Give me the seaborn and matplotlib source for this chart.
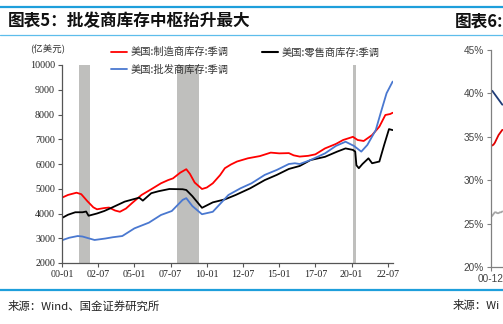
import matplotlib
matplotlib.use("Agg")
import matplotlib.pyplot as plt
import seaborn as sns
import pandas as pd
from matplotlib.lines import Line2D

# ---------------- data (亿美元) ----------------
mfg_dates = ["2000-01", "2000-06", "2001-01", "2001-05", "2001-10", "2002-03", "2002-06",
             "2002-12", "2003-04", "2003-09", "2004-01", "2004-06", "2004-11", "2005-07",
             "2006-03", "2006-11", "2007-05", "2007-09", "2008-03", "2008-08", "2008-11",
             "2009-03", "2009-09", "2010-01", "2010-06", "2010-12", "2011-04", "2011-09",
             "2012-02", "2012-11", "2013-09", "2014-06", "2015-01", "2015-09", "2016-01",
             "2016-06", "2017-01", "2017-07", "2018-03", "2018-12", "2019-06", "2020-01",
             "2020-02", "2020-06", "2020-11", "2021-06", "2021-12", "2022-05", "2022-09",
             "2022-11"]
mfg_vals = [4640, 4750, 4840, 4780, 4500, 4250, 4170,
            4220, 4240, 4120, 4070, 4200, 4420, 4750,
            4980, 5220, 5350, 5420, 5650, 5790, 5600,
            5250, 4990, 5050, 5220, 5550, 5830, 5980,
            6100, 6230, 6320, 6460, 6430, 6440, 6350,
            6300, 6330, 6390, 6630, 6810, 6970, 7080,
            7100, 6970, 6930, 7170, 7510, 7980, 8020,
            8070]

ret_dates = ["2000-01", "2000-06", "2000-12", "2001-06", "2001-09", "2001-11", "2002-06",
             "2002-12", "2003-06", "2004-05", "2005-05", "2005-08", "2006-03", "2006-09",
             "2007-06", "2008-05", "2008-08", "2009-01", "2009-09", "2010-06", "2011-04",
             "2012-01", "2013-01", "2014-01", "2014-11", "2015-09", "2016-06", "2017-03",
             "2018-03", "2019-01", "2019-08", "2020-02", "2020-04", "2020-05", "2020-07",
             "2020-10", "2021-03", "2021-06", "2021-12", "2022-04", "2022-08", "2022-11"]
ret_vals = [3820, 3950, 4050, 4050, 4080, 3910, 4000,
            4100, 4230, 4480, 4640, 4520, 4820, 4900,
            4990, 4980, 4950, 4700, 4230, 4450, 4570,
            4750, 5020, 5350, 5560, 5800, 5920, 6160,
            6290, 6500, 6630, 6570, 6500, 5950, 5830,
            6000, 6230, 6030, 6100, 6770, 7410, 7370]

whl_dates = ["2000-01", "2000-07", "2001-02", "2001-06", "2002-04", "2003-01", "2003-07",
             "2004-03", "2005-01", "2006-01", "2006-11", "2007-08", "2008-05", "2008-08",
             "2009-01", "2009-09", "2010-06", "2011-07", "2012-05", "2013-02", "2014-01",
             "2014-11", "2015-09", "2016-02", "2016-06", "2017-03", "2018-03", "2018-12",
             "2019-08", "2020-03", "2020-09", "2021-02", "2021-09", "2022-01", "2022-06",
             "2022-11"]
whl_vals = [2920, 3020, 3090, 3070, 2930, 2990, 3040,
            3090, 3400, 3630, 3940, 4100, 4550, 4620,
            4300, 3970, 4070, 4750, 5020, 5220, 5560,
            5760, 6000, 6030, 6000, 6160, 6430, 6730,
            6900, 6730, 6500, 6770, 7370, 8050, 8860,
            9330]

series_names = ["美国:制造商库存:季调", "美国:零售商库存:季调", "美国:批发商库存:季调"]
recessions = [("2001-03-01", "2001-11-30"), ("2007-12-01", "2009-06-30"), ("2020-02-01", "2020-04-30")]
x_ticks = ["2000-01", "2002-07", "2005-01", "2007-07", "2010-01", "2012-07",
           "2015-01", "2017-07", "2020-01", "2022-07"]
y_ticks = [2000, 3000, 4000, 5000, 6000, 7000, 8000, 9000, 10000]

# right (partially visible) chart: first months only
r_navy = [40.3, 40.3, 40.1, 39.9, 39.7, 39.5, 39.3, 39.1, 38.9, 38.7]
r_red = [34.0, 34.0, 34.1, 34.3, 34.6, 34.9, 35.2, 35.4, 35.6, 35.8]
r_gray = [25.8, 25.9, 26.1, 26.3, 26.3, 26.2, 26.2, 26.3, 26.3, 26.4]
r_yticks = [20, 25, 30, 35, 40, 45]

# ---------------- style ----------------
sns.set_theme(style="white")
plt.rcParams["font.family"] = ["Noto Sans CJK SC", "DejaVu Sans"]
plt.rcParams["axes.unicode_minus"] = False

W, H = 503, 324
fig = plt.figure(figsize=(W / 100, H / 100), dpi=100)
fig.patch.set_facecolor("white")

def fx(px):
    return px / W

def fy(py):
    return 1 - py / H

# decorative lines
line_col = "#1E9FDB"
fig.add_artist(Line2D([0, 1], [fy(7), fy(7)], color=line_col, lw=1.6))
fig.add_artist(Line2D([0, 1], [fy(34.5), fy(34.5)], color="#5DBDEB", lw=0.9))
fig.add_artist(Line2D([0, 1], [fy(290), fy(290)], color=line_col, lw=1.6))

fig.text(fx(8), fy(21), "图表5：批发商库存中枢抬升最大", fontsize=12, fontweight="bold",
         va="center", ha="left", color="#111111")
fig.text(fx(455), fy(21), "图表6:", fontsize=12, fontweight="bold",
         va="center", ha="left", color="#111111")
fig.text(fx(8), fy(306), "来源：Wind、国金证券研究所", fontsize=8.2, va="center", ha="left",
         color="#222222")
fig.text(fx(453), fy(306), "来源：Wi", fontsize=8.2, va="center", ha="left",
         color="#222222")
fig.text(fx(48), fy(49), "(亿美元)", fontsize=6.8, va="center", ha="center", color="#333333")

# ---------------- main chart ----------------
ax = fig.add_axes([fx(62), fy(263), fx(393) - fx(62), fy(65) - fy(263)])
ax.set_facecolor("white")

for s, e in recessions:
    ax.axvspan(pd.Timestamp(s), pd.Timestamp(e), color="#BFBFBD", lw=0, zorder=0)

colors = ["#FF0000", "#000000", "#4A78D0"]
sns.lineplot(x=pd.to_datetime(mfg_dates), y=mfg_vals, ax=ax, color=colors[0], lw=1.3)
sns.lineplot(x=pd.to_datetime(ret_dates), y=ret_vals, ax=ax, color=colors[1], lw=1.3)
sns.lineplot(x=pd.to_datetime(whl_dates), y=whl_vals, ax=ax, color=colors[2], lw=1.3)

ax.set_xlim(pd.Timestamp("2000-01-01"), pd.Timestamp("2022-11-10"))
ax.set_ylim(2000, 10000)
ax.set_yticks(y_ticks)
ax.set_yticklabels([str(v) for v in y_ticks])
xt = pd.to_datetime(x_ticks)
ax.set_xticks(xt)
ax.set_xticklabels([d.strftime("%y-%m") for d in xt])
ax.set_xlabel("")
ax.set_ylabel("")
for sp in ["top", "right"]:
    ax.spines[sp].set_visible(False)
for sp in ["left", "bottom"]:
    ax.spines[sp].set_color("#555555")
    ax.spines[sp].set_linewidth(0.9)
ax.tick_params(axis="both", direction="out", length=3, width=0.8, color="#555555",
               labelsize=7.2, labelcolor="#222222", pad=2, left=True, bottom=True)
for lab in ax.get_xticklabels() + ax.get_yticklabels():
    lab.set_family(["Liberation Serif", "DejaVu Serif"])

handles = [Line2D([], [], color=colors[0], lw=1.3),
           Line2D([], [], color=colors[2], lw=1.3),
           Line2D([], [], color=colors[1], lw=1.5)]
labels = [series_names[0], series_names[2], series_names[1]]
leg = fig.legend(handles, labels, loc="upper left", bbox_to_anchor=(fx(111), fy(47)),
                 bbox_transform=fig.transFigure, ncol=2, frameon=False, fontsize=7.4,
                 handlelength=1.6, handletextpad=0.35, columnspacing=3.2,
                 labelspacing=0.75, borderpad=0, borderaxespad=0)
for t in leg.get_texts():
    t.set_color("#333333")

# ---------------- right, partially visible chart ----------------
axr = fig.add_axes([fx(491), fy(267), 0.66, fy(50) - fy(267)])
axr.set_facecolor("white")
idx = list(range(len(r_navy)))
sns.lineplot(x=idx, y=r_navy, ax=axr, color="#1F3C78", lw=1.3)
sns.lineplot(x=idx, y=r_red, ax=axr, color="#E00000", lw=1.3)
sns.lineplot(x=idx, y=r_gray, ax=axr, color="#A6A6A6", lw=1.3)
axr.set_xlim(0, 264)
axr.set_ylim(20, 45)
axr.set_yticks(r_yticks)
axr.set_yticklabels([f"{v}%" for v in r_yticks])
axr.set_xticks([0])
axr.set_xticklabels(["00-12"])
axr.set_xlabel("")
axr.set_ylabel("")
for sp in ["top", "right"]:
    axr.spines[sp].set_visible(False)
for sp in ["left", "bottom"]:
    axr.spines[sp].set_color("#808080")
    axr.spines[sp].set_linewidth(0.9)
axr.tick_params(axis="both", direction="out", length=3, width=0.8, color="#808080",
                labelsize=7.2, labelcolor="#444444", pad=2, left=True, bottom=True)
for lab in axr.get_xticklabels() + axr.get_yticklabels():
    lab.set_family(["Liberation Sans", "DejaVu Sans"])

fig.savefig("out.png", dpi=100, facecolor="white")
